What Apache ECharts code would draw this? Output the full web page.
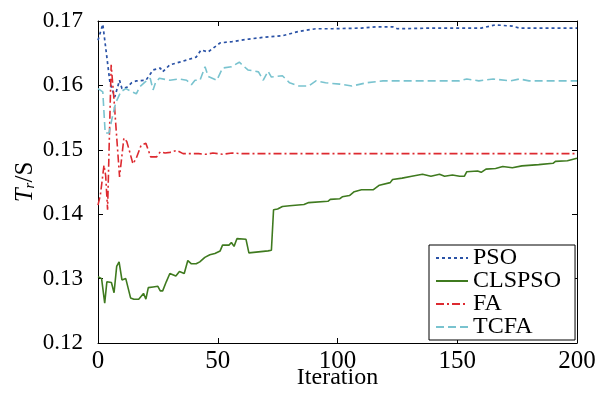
<!DOCTYPE html>
<html>
<head>
<meta charset="utf-8">
<script src="https://cdn.jsdelivr.net/npm/echarts@6/dist/echarts.min.js"></script>
<style>html,body{margin:0;padding:0;background:#fff;}#c{width:605px;height:394px;}</style>
</head>
<body>
<div id="c"></div>
<script>
var seriesNames = ['PSO', 'CLSPSO', 'FA', 'TCFA'];
var xTicks = [0, 50, 100, 150, 200];
var yTicks = [0.12, 0.13, 0.14, 0.15, 0.16, 0.17];

var psoIter = [0, 2, 3.5, 5, 7, 9, 10, 12, 14, 16, 20, 23, 26, 27, 30, 35, 41, 43, 46, 51, 56, 63, 70, 77, 81, 84, 91, 98, 110, 116, 123, 125, 140, 160, 166, 173, 176, 200];
var psoVal = [0.1670, 0.1695, 0.1650, 0.1604, 0.1582, 0.1608, 0.1595, 0.1597, 0.1604, 0.1607, 0.1608, 0.1624, 0.1627, 0.1621, 0.1632, 0.1637, 0.1644, 0.1655, 0.1652, 0.1666, 0.1668, 0.1672, 0.1675, 0.1677, 0.1681, 0.1684, 0.1688, 0.1688, 0.1689, 0.1691, 0.1691, 0.1688, 0.1689, 0.1689, 0.1694, 0.1692, 0.1689, 0.1689];

var clsIter = [0, 1.5, 2.8, 3.7, 5.6, 6.7, 7.8, 8.8, 10, 11.6, 13.6, 15, 17, 19, 20, 21, 23, 25, 26, 27, 28.5, 30, 32.5, 34, 36, 37.5, 39, 41, 42.5, 44.6, 46.7, 48.8, 51, 52, 54.7, 55.7, 56.8, 58, 61.8, 63, 71, 72.4, 73.3, 75, 77, 80, 86, 88, 96, 97, 101, 102, 105, 107, 110, 115, 117.5, 122, 123, 127, 131, 135.5, 139, 142.6, 144.7, 148, 151, 153, 154, 158.5, 160, 162, 166, 169, 173, 177, 184, 190, 191, 196, 200];
var clsVal = [0.1303, 0.1300, 0.1262, 0.1295, 0.1294, 0.1278, 0.1319, 0.1326, 0.1298, 0.1300, 0.1270, 0.1268, 0.1268, 0.1277, 0.1268, 0.1286, 0.1287, 0.1288, 0.1281, 0.1281, 0.1295, 0.1308, 0.1304, 0.1311, 0.1308, 0.1328, 0.1323, 0.1323, 0.1326, 0.1333, 0.1337, 0.1339, 0.1343, 0.1352, 0.1352, 0.1356, 0.1350, 0.1362, 0.1361, 0.1340, 0.1343, 0.1344, 0.1407, 0.1408, 0.1412, 0.1413, 0.1415, 0.1418, 0.1420, 0.1423, 0.1424, 0.1427, 0.1429, 0.1435, 0.1438, 0.1438, 0.1445, 0.1449, 0.1454, 0.1456, 0.1459, 0.1462, 0.1459, 0.1462, 0.1459, 0.1461, 0.1459, 0.1459, 0.1466, 0.1467, 0.1465, 0.1470, 0.1471, 0.1474, 0.1472, 0.1475, 0.1477, 0.1479, 0.1482, 0.1483, 0.1487];

var faIter = [0, 1, 2.5, 3.2, 4, 5.5, 6.7, 9, 10.8, 12, 13, 14.6, 16, 18, 20, 22, 24.5, 26, 28, 30, 33, 35.5, 42, 45, 48, 52, 56, 60, 200];
var faVal = [0.1414, 0.1430, 0.1476, 0.1460, 0.1407, 0.1632, 0.1577, 0.1458, 0.1518, 0.1513, 0.1500, 0.1478, 0.1487, 0.1507, 0.1510, 0.1489, 0.1489, 0.1497, 0.1495, 0.1496, 0.1499, 0.1494, 0.1494, 0.1493, 0.1495, 0.1493, 0.1495, 0.1494, 0.1494];

var tcfaIter = [0, 2, 3, 4.6, 6, 7.4, 9.5, 11.6, 14.3, 16, 17.5, 19.6, 21.8, 23, 24, 25.6, 30, 34, 37, 39, 40.5, 42.6, 44.7, 46, 49.6, 52, 55.7, 59, 62.6, 67, 69, 71, 72.4, 77, 80, 84, 88, 91, 95, 101, 106, 112, 119, 126, 151, 154, 159, 165, 172, 176, 180, 200];
var tcfaVal = [0.1595, 0.1590, 0.1526, 0.1526, 0.1551, 0.1573, 0.1590, 0.1595, 0.1590, 0.1587, 0.1598, 0.1605, 0.1611, 0.1593, 0.1604, 0.1611, 0.1608, 0.1610, 0.1608, 0.1601, 0.1608, 0.1608, 0.1629, 0.1614, 0.1608, 0.1627, 0.1629, 0.1636, 0.1624, 0.1621, 0.1608, 0.1622, 0.1613, 0.1615, 0.1604, 0.1599, 0.1599, 0.1607, 0.1604, 0.1602, 0.1599, 0.1604, 0.1607, 0.1607, 0.1607, 0.1610, 0.1607, 0.1610, 0.1607, 0.1610, 0.1607, 0.1607];

function pairs(xs, ys) { return xs.map(function (x, i) { return [x, ys[i]]; }); }

var FONT = '"Liberation Serif", "Times New Roman", serif';
var axisLineStyle = { color: '#000', width: 1 };

function xAx(pos, show) {
  return {
    type: 'value', position: pos, min: xTicks[0], max: xTicks[xTicks.length - 1], interval: 50,
    axisLine: { show: true, onZero: false, lineStyle: axisLineStyle },
    axisTick: { show: true, inside: true, length: 5, lineStyle: axisLineStyle },
    axisLabel: { show: show, color: '#000', fontFamily: FONT, fontSize: 25, margin: 6 },
    splitLine: { show: false },
    name: show ? 'Iteration' : '', nameLocation: 'middle', nameGap: 23, nameMoveOverlap: false,
    nameTextStyle: { color: '#000', fontFamily: FONT, fontSize: 24 }
  };
}
function yAx(pos, show) {
  return {
    type: 'value', position: pos, min: yTicks[0], max: yTicks[yTicks.length - 1], interval: 0.01,
    axisLine: { show: true, onZero: false, lineStyle: axisLineStyle },
    axisTick: { show: true, inside: true, length: 5, lineStyle: axisLineStyle },
    axisLabel: { show: show, color: '#000', fontFamily: FONT, fontSize: 23, margin: 15,
      formatter: function (v) { return v.toFixed(2); } },
    splitLine: { show: false },
    name: show ? '{i|T}{s|r}{n|/S}' : '', nameLocation: 'middle', nameGap: 60, nameRotate: 90, nameMoveOverlap: false,
    nameTextStyle: { color: '#000', fontFamily: FONT, fontSize: 25,
      rich: {
        i: { fontFamily: FONT, fontStyle: 'italic', fontSize: 25, color: '#000' },
        s: { fontFamily: FONT, fontStyle: 'italic', fontSize: 15, color: '#000', verticalAlign: 'bottom', padding: [10, 0, 0, 0] },
        n: { fontFamily: FONT, fontSize: 25, color: '#000' }
      } }
  };
}

var chart = echarts.init(document.getElementById('c'), null, { renderer: 'canvas' });
chart.setOption({
  backgroundColor: '#fff',
  animation: false,
  grid: { left: 98, right: 28, top: 21, bottom: 51, outerBoundsMode: 'none', containLabel: false },
  xAxis: [xAx('bottom', true), xAx('top', false)],
  yAxis: [yAx('left', true), yAx('right', false)],
  legend: {
    orient: 'vertical', left: 429, top: 245,
    backgroundColor: '#fff', borderColor: '#000', borderWidth: 1, borderRadius: 0,
    padding: [1, 14, 1, 6], itemGap: -1, itemWidth: 32, itemHeight: 14, itemTextGap: 5,
    itemStyle: { opacity: 0 },
    textStyle: { color: '#000', fontFamily: FONT, fontSize: 24 },
    data: seriesNames
  },
  series: [
    { name: seriesNames[0], type: 'line', symbol: 'none', data: pairs(psoIter, psoVal),
      lineStyle: { color: '#2a52a6', width: 1.7, type: [3, 3] }, itemStyle: { color: '#2a52a6' } },
    { name: seriesNames[1], type: 'line', symbol: 'none', data: pairs(clsIter, clsVal),
      lineStyle: { color: '#3f7a1f', width: 1.6, type: 'solid' }, itemStyle: { color: '#3f7a1f' } },
    { name: seriesNames[2], type: 'line', symbol: 'none', data: pairs(faIter, faVal),
      lineStyle: { color: '#dd2a30', width: 1.6, type: [8, 3, 2, 3] }, itemStyle: { color: '#dd2a30' } },
    { name: seriesNames[3], type: 'line', symbol: 'none', data: pairs(tcfaIter, tcfaVal),
      lineStyle: { color: '#79c3cf', width: 1.6, type: [8, 4] }, itemStyle: { color: '#79c3cf' } }
  ]
});
</script>
</body>
</html>
